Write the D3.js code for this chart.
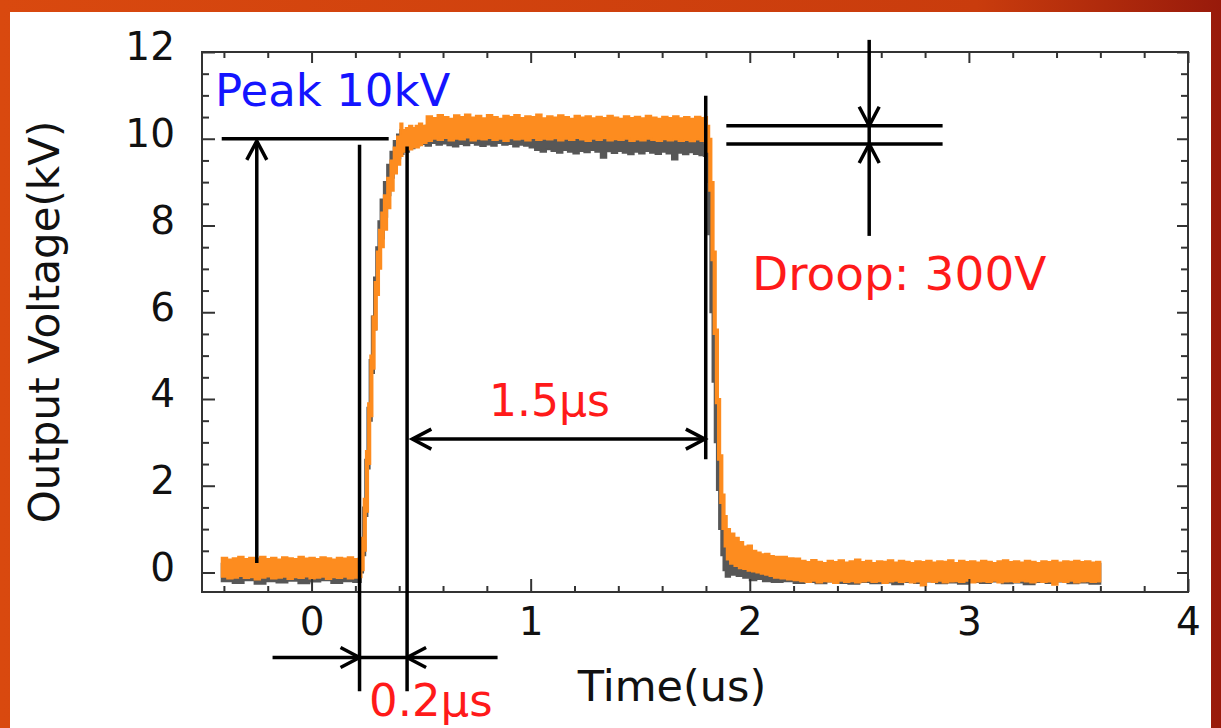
<!DOCTYPE html>
<html>
<head>
<meta charset="utf-8">
<script src="https://cdn.jsdelivr.net/npm/d3@7"></script>
<style>
html, body { margin: 0; padding: 0; background: #fff; }
svg { display: block; font-family: "DejaVu Sans", Verdana, sans-serif; }
</style>
</head>
<body>
<svg width="1221" height="728"></svg>
<script>
// scope traces: [time (us), low kV, high kV]
var orangeTrace = [
  [-0.41, -0.10, 0.34], [-0.385, -0.14, 0.30], [-0.36, -0.12, 0.33], [-0.335, -0.08, 0.36],
  [-0.31, -0.13, 0.31], [-0.285, -0.11, 0.34], [-0.26, -0.16, 0.32], [-0.235, -0.12, 0.36],
  [-0.21, -0.09, 0.31], [-0.185, -0.14, 0.34], [-0.16, -0.12, 0.30], [-0.135, -0.10, 0.35],
  [-0.11, -0.15, 0.33], [-0.085, -0.11, 0.31], [-0.06, -0.13, 0.36], [-0.035, -0.09, 0.32],
  [-0.01, -0.14, 0.34], [0.015, -0.12, 0.31], [0.04, -0.10, 0.35], [0.065, -0.15, 0.33],
  [0.09, -0.11, 0.30], [0.115, -0.13, 0.34], [0.14, -0.10, 0.32], [0.165, -0.14, 0.35],
  [0.19, -0.12, 0.31], [0.215, -0.11, 0.33],
  [0.228, 0.05, 0.8], [0.238, 0.5, 1.7], [0.248, 1.4, 2.8], [0.258, 2.5, 3.9],
  [0.268, 3.6, 5.0], [0.278, 4.7, 5.9], [0.288, 5.6, 6.7], [0.298, 6.4, 7.4],
  [0.308, 7.0, 7.9], [0.318, 7.5, 8.3], [0.33, 7.9, 8.7], [0.345, 8.4, 9.1],
  [0.36, 8.8, 9.5], [0.375, 9.2, 9.8], [0.39, 9.4, 10.05], [0.405, 9.6, 10.35],
  [0.415, 9.7, 10.2], [0.43, 9.75, 10.25], [0.445, 9.75, 10.3], [0.46, 9.8, 10.25],
  [0.475, 9.8, 10.3], [0.49, 9.85, 10.35], [0.505, 9.9, 10.3],
  [0.525, 9.95, 10.52], [0.55, 10.0, 10.48], [0.575, 9.97, 10.55], [0.6, 10.02, 10.5],
  [0.625, 9.96, 10.46], [0.65, 10.0, 10.54], [0.675, 9.98, 10.5], [0.7, 10.03, 10.56],
  [0.725, 9.96, 10.49], [0.75, 10.0, 10.53], [0.775, 9.98, 10.47], [0.8, 10.02, 10.55],
  [0.825, 9.97, 10.5], [0.85, 10.0, 10.46], [0.875, 9.95, 10.53], [0.9, 10.01, 10.5],
  [0.925, 9.98, 10.55], [0.95, 10.0, 10.48], [0.975, 9.96, 10.52], [1.0, 10.02, 10.5],
  [1.025, 9.97, 10.56], [1.05, 10.0, 10.47], [1.075, 9.98, 10.52], [1.1, 10.01, 10.49],
  [1.125, 9.96, 10.54], [1.15, 10.0, 10.5], [1.175, 9.97, 10.46], [1.2, 10.02, 10.53],
  [1.225, 9.98, 10.49], [1.25, 9.95, 10.52], [1.275, 10.0, 10.47], [1.3, 9.97, 10.51],
  [1.325, 10.01, 10.48], [1.35, 9.96, 10.53], [1.375, 9.99, 10.49], [1.4, 9.97, 10.46],
  [1.425, 10.0, 10.52], [1.45, 9.95, 10.48], [1.475, 9.98, 10.51], [1.5, 9.96, 10.47],
  [1.525, 10.0, 10.53], [1.55, 9.97, 10.49], [1.575, 9.95, 10.46], [1.6, 9.99, 10.51],
  [1.625, 9.96, 10.48], [1.65, 9.98, 10.52], [1.675, 9.95, 10.47], [1.7, 9.97, 10.5],
  [1.725, 9.94, 10.46], [1.75, 9.98, 10.51], [1.775, 9.95, 10.48],
  [1.795, 9.9, 10.5], [1.805, 9.7, 10.3], [1.815, 8.8, 10.0], [1.825, 7.2, 9.0],
  [1.835, 5.5, 7.4], [1.845, 3.9, 5.6], [1.855, 2.6, 4.0], [1.865, 1.6, 2.7],
  [1.875, 1.0, 1.8], [1.885, 0.6, 1.3], [1.895, 0.3, 1.0],
  [1.91, 0.2, 0.9], [1.93, 0.15, 0.8], [1.95, 0.1, 0.7], [1.97, 0.08, 0.6],
  [1.99, 0.04, 0.62], [2.01, 0.02, 0.5], [2.03, 0.0, 0.46], [2.05, -0.03, 0.42],
  [2.07, -0.05, 0.43], [2.09, -0.08, 0.38], [2.11, -0.12, 0.36], [2.14, -0.14, 0.36],
  [2.17, -0.16, 0.33], [2.2, -0.18, 0.32],
  [2.23, -0.2, 0.27], [2.255, -0.22, 0.24], [2.28, -0.19, 0.29], [2.305, -0.23, 0.25],
  [2.33, -0.2, 0.22], [2.355, -0.21, 0.27], [2.38, -0.24, 0.24], [2.405, -0.19, 0.28],
  [2.43, -0.22, 0.23], [2.455, -0.2, 0.26], [2.48, -0.23, 0.3], [2.505, -0.21, 0.24],
  [2.53, -0.19, 0.27], [2.555, -0.22, 0.22], [2.58, -0.2, 0.26], [2.605, -0.24, 0.25],
  [2.63, -0.21, 0.28], [2.655, -0.19, 0.23], [2.68, -0.22, 0.27], [2.705, -0.2, 0.25],
  [2.73, -0.23, 0.22], [2.755, -0.21, 0.26], [2.78, -0.3, 0.24], [2.805, -0.2, 0.27],
  [2.83, -0.22, 0.23], [2.855, -0.19, 0.26], [2.88, -0.23, 0.25], [2.905, -0.21, 0.28],
  [2.93, -0.2, 0.22], [2.955, -0.22, 0.27], [2.98, -0.19, 0.24], [3.005, -0.23, 0.26],
  [3.03, -0.21, 0.23], [3.055, -0.2, 0.27], [3.08, -0.22, 0.25], [3.105, -0.19, 0.22],
  [3.13, -0.23, 0.26], [3.155, -0.21, 0.28], [3.18, -0.2, 0.24], [3.205, -0.22, 0.26],
  [3.23, -0.19, 0.23], [3.255, -0.21, 0.27], [3.28, -0.23, 0.25], [3.305, -0.2, 0.22],
  [3.33, -0.22, 0.26], [3.355, -0.21, 0.24], [3.38, -0.28, 0.27], [3.405, -0.2, 0.23],
  [3.43, -0.22, 0.26], [3.455, -0.19, 0.25], [3.48, -0.23, 0.27], [3.505, -0.21, 0.24],
  [3.53, -0.2, 0.26], [3.555, -0.22, 0.23], [3.58, -0.21, 0.25], [3.6, -0.21, 0.25]
];

var grayTrace = [
  [-0.41, -0.2, 0.2], [-0.36, -0.24, 0.18], [-0.31, -0.18, 0.22], [-0.26, -0.26, 0.2],
  [-0.21, -0.2, 0.19], [-0.16, -0.23, 0.21], [-0.11, -0.19, 0.2], [-0.06, -0.25, 0.18],
  [-0.01, -0.21, 0.22], [0.04, -0.18, 0.2], [0.09, -0.24, 0.19], [0.14, -0.2, 0.21],
  [0.19, -0.22, 0.2],
  [0.225, 0.0, 0.6], [0.235, 0.4, 1.5], [0.245, 1.3, 2.6], [0.255, 2.4, 3.8],
  [0.265, 3.5, 4.9], [0.275, 4.6, 5.9], [0.285, 5.6, 6.8], [0.295, 6.5, 7.5],
  [0.305, 7.2, 8.1], [0.315, 7.7, 8.6], [0.33, 8.2, 9.0], [0.345, 8.7, 9.4],
  [0.36, 9.1, 9.7], [0.375, 9.4, 9.95], [0.39, 9.55, 10.1], [0.405, 9.65, 10.2],
  [0.42, 9.7, 10.1], [0.445, 9.78, 10.15], [0.47, 9.85, 10.2], [0.495, 9.88, 10.25],
  [0.52, 9.84, 10.3], [0.545, 9.9, 10.3], [0.57, 9.86, 10.3], [0.595, 9.89, 10.3],
  [0.62, 9.85, 10.3], [0.645, 9.82, 10.3], [0.67, 9.88, 10.3], [0.695, 9.85, 10.3],
  [0.72, 9.9, 10.3], [0.745, 9.86, 10.3], [0.77, 9.83, 10.3], [0.795, 9.87, 10.3],
  [0.82, 9.84, 10.3], [0.845, 9.9, 10.3], [0.87, 9.86, 10.3], [0.895, 9.88, 10.3],
  [0.92, 9.82, 10.3], [0.945, 9.86, 10.3], [0.97, 9.84, 10.3], [0.995, 9.8, 10.3],
  [1.02, 9.74, 10.3], [1.045, 9.7, 10.25], [1.07, 9.76, 10.25], [1.095, 9.72, 10.25],
  [1.12, 9.68, 10.25], [1.145, 9.74, 10.25], [1.17, 9.7, 10.25], [1.195, 9.66, 10.25],
  [1.22, 9.72, 10.2], [1.245, 9.69, 10.2], [1.27, 9.74, 10.2], [1.295, 9.7, 10.2],
  [1.32, 9.56, 10.2], [1.345, 9.71, 10.2], [1.37, 9.67, 10.2], [1.395, 9.72, 10.2],
  [1.42, 9.68, 10.2], [1.445, 9.64, 10.2], [1.47, 9.7, 10.2], [1.495, 9.66, 10.2],
  [1.52, 9.72, 10.2], [1.545, 9.68, 10.2], [1.57, 9.65, 10.2], [1.595, 9.7, 10.2],
  [1.62, 9.66, 10.2], [1.645, 9.52, 10.2], [1.67, 9.68, 10.2], [1.695, 9.64, 10.2],
  [1.72, 9.69, 10.2], [1.745, 9.65, 10.2], [1.77, 9.62, 10.2], [1.79, 9.6, 10.2],
  [1.8, 9.0, 10.1], [1.81, 7.8, 9.6], [1.82, 6.0, 8.2], [1.83, 4.4, 6.4],
  [1.84, 3.0, 4.8], [1.85, 1.9, 3.3], [1.86, 1.0, 2.2], [1.87, 0.4, 1.4],
  [1.88, 0.05, 0.9], [1.89, -0.1, 0.7],
  [1.91, -0.05, 0.6], [1.94, -0.08, 0.5], [1.97, -0.12, 0.45], [2.0, -0.18, 0.4],
  [2.03, -0.15, 0.35], [2.06, -0.2, 0.3], [2.1, -0.22, 0.3], [2.15, -0.2, 0.25],
  [2.2, -0.24, 0.22], [2.25, -0.22, 0.2], [2.3, -0.25, 0.2], [2.35, -0.21, 0.2],
  [2.4, -0.24, 0.2], [2.45, -0.26, 0.2], [2.5, -0.22, 0.2], [2.55, -0.25, 0.2],
  [2.6, -0.23, 0.2], [2.65, -0.27, 0.2], [2.7, -0.22, 0.2], [2.75, -0.24, 0.2],
  [2.8, -0.21, 0.2], [2.85, -0.25, 0.2], [2.9, -0.23, 0.2], [2.95, -0.26, 0.2],
  [3.0, -0.22, 0.2], [3.05, -0.24, 0.2], [3.1, -0.21, 0.2], [3.15, -0.25, 0.2],
  [3.2, -0.23, 0.2], [3.25, -0.27, 0.2], [3.3, -0.22, 0.2], [3.35, -0.24, 0.2],
  [3.4, -0.21, 0.2], [3.45, -0.25, 0.2], [3.5, -0.23, 0.2], [3.55, -0.26, 0.2],
  [3.6, -0.22, 0.2]
];

var xTickLabels = [0, 1, 2, 3, 4];
var yTickLabels = [0, 2, 4, 6, 8, 10, 12];

// measurement guides, in data units: [t1, v1, t2, v2]
var guideLines = [
  [-0.41, 10.0, 0.352, 10.0],
  [-0.25, 0.22, -0.25, 9.95],
  [0.219, 9.86, 0.219, -2.74],
  [0.436, 9.82, 0.436, -2.74],
  [-0.178, -1.96, 0.849, -1.96],
  [0.46, 3.075, 1.795, 3.075],
  [1.799, 10.99, 1.799, 2.61],
  [1.893, 10.3, 2.88, 10.3],
  [1.893, 9.88, 2.88, 9.88],
  [2.545, 12.28, 2.545, 7.76]
];
var arrowHeads = [
  [-0.25, 9.95, "up"],
  [0.219, -1.96, "right"],
  [0.436, -1.96, "left"],
  [0.46, 3.075, "left"],
  [1.795, 3.075, "right"],
  [2.545, 10.3, "down"],
  [2.545, 9.88, "up"]
];

var svg = d3.select("svg");
var FONT = '"DejaVu Sans", Verdana, sans-serif';

// slide frame
var grad = svg.append("defs").append("linearGradient").attr("id", "frameGrad");
grad.append("stop").attr("offset", "0%").attr("stop-color", "#d9490f");
grad.append("stop").attr("offset", "80%").attr("stop-color", "#c93c0d");
grad.append("stop").attr("offset", "100%").attr("stop-color", "#981a0b");
svg.append("rect").attr("width", 1221).attr("height", 728).attr("fill", "url(#frameGrad)");
svg.append("rect").attr("x", 10).attr("y", 12).attr("width", 1201).attr("height", 716).attr("fill", "#fff");

var x = d3.scaleLinear().domain([-0.5, 4]).range([202, 1188]);
var y = d3.scaleLinear().domain([-0.45, 12]).range([592, 52]);

// traces
var area = d3.area()
  .x(function(d) { return x(d[0]); })
  .y0(function(d) { return y(d[1]); })
  .y1(function(d) { return y(d[2]); })
  .curve(d3.curveStepAfter);

svg.append("path").datum(grayTrace).attr("d", area)
  .attr("fill", "#575757").attr("stroke", "#575757").attr("stroke-width", 2);
svg.append("path").datum(orangeTrace).attr("d", area)
  .attr("fill", "#fd8c1f").attr("stroke", "#fd8c1f").attr("stroke-width", 2);

// axes: major + minor ticks, all pointing inward
var xMinor = d3.range(-0.4, 4.01, 0.2).filter(function(v) { return Math.abs(v - Math.round(v)) > 0.01; });
var yMinor = d3.range(0, 12.01, 0.5).filter(function(v) { return v % 2 !== 0; });

function styleAxis(g) {
  g.attr("font-family", null).attr("font-size", null);
  g.select(".domain").remove();
  g.selectAll(".tick line").attr("stroke", "#333").attr("stroke-width", 2);
  g.selectAll(".tick text").attr("fill", "#111")
    .style("font-family", FONT).style("font-size", "39px");
}

svg.append("g").attr("transform", "translate(0,592)")
  .call(d3.axisBottom(x).tickValues(xTickLabels).tickSize(-13).tickPadding(15).tickFormat(d3.format("d")))
  .call(styleAxis);
svg.append("g").attr("transform", "translate(0,592)")
  .call(d3.axisBottom(x).tickValues(xMinor).tickSize(-6).tickFormat(""))
  .call(styleAxis);
svg.append("g").attr("transform", "translate(0,52)")
  .call(d3.axisTop(x).tickValues(xTickLabels).tickSize(-11).tickFormat(""))
  .call(styleAxis);
svg.append("g").attr("transform", "translate(0,52)")
  .call(d3.axisTop(x).tickValues(xMinor).tickSize(-6).tickFormat(""))
  .call(styleAxis);

svg.append("g").attr("transform", "translate(202,0)")
  .call(d3.axisLeft(y).tickValues(yTickLabels).tickSize(-13).tickPadding(27).tickFormat(d3.format("d")))
  .call(styleAxis)
  .selectAll(".tick text").attr("dy", "0.2em");
svg.append("g").attr("transform", "translate(202,0)")
  .call(d3.axisLeft(y).tickValues(yMinor).tickSize(-7).tickFormat(""))
  .call(styleAxis);
svg.append("g").attr("transform", "translate(1188,0)")
  .call(d3.axisRight(y).tickValues(yTickLabels).tickSize(-11).tickFormat(""))
  .call(styleAxis);
svg.append("g").attr("transform", "translate(1188,0)")
  .call(d3.axisRight(y).tickValues(yMinor).tickSize(-7).tickFormat(""))
  .call(styleAxis);

svg.append("rect")
  .attr("x", 202).attr("y", 52).attr("width", 1188 - 202).attr("height", 592 - 52)
  .attr("fill", "none").attr("stroke", "#333").attr("stroke-width", 2);

// axis titles
svg.append("text").attr("x", 672).attr("y", 701).attr("text-anchor", "middle")
  .style("font-size", "43px").attr("fill", "#111").text("Time(us)");
svg.append("text").attr("transform", "translate(59,322) rotate(-90)").attr("text-anchor", "middle")
  .style("font-size", "42px").attr("fill", "#111").text("Output Voltage(kV)");

// guides
svg.selectAll("line.guide").data(guideLines).enter().append("line")
  .attr("class", "guide")
  .attr("x1", function(d) { return x(d[0]); })
  .attr("y1", function(d) { return y(d[1]); })
  .attr("x2", function(d) { return x(d[2]); })
  .attr("y2", function(d) { return y(d[3]); })
  .attr("stroke", "#000").attr("stroke-width", 3.5);

var dirs = { up: [0, -1], down: [0, 1], left: [-1, 0], right: [1, 0] };
svg.selectAll("polyline.head").data(arrowHeads).enter().append("polyline")
  .attr("class", "head")
  .attr("points", function(d) {
    var px = x(d[0]), py = y(d[1]), u = dirs[d[2]];
    var bx = px - 19 * u[0], by = py - 19 * u[1];
    return [[bx - 10 * u[1], by + 10 * u[0]], [px, py], [bx + 10 * u[1], by - 10 * u[0]]].join(" ");
  })
  .attr("fill", "none").attr("stroke", "#000").attr("stroke-width", 3.5);

// labels
svg.append("text").attr("x", 215).attr("y", 106).style("font-size", "45px")
  .attr("fill", "#1414ff").text("Peak 10kV");
svg.append("text").attr("x", 489).attr("y", 416).style("font-size", "44px")
  .attr("fill", "#ff1a1a").text("1.5μs");
svg.append("text").attr("x", 752).attr("y", 290).style("font-size", "47px")
  .attr("fill", "#ff1a1a").text("Droop: 300V");
svg.append("text").attr("x", 369).attr("y", 716).style("font-size", "45px")
  .attr("fill", "#ff1a1a").text("0.2μs");
</script>
</body>
</html>
